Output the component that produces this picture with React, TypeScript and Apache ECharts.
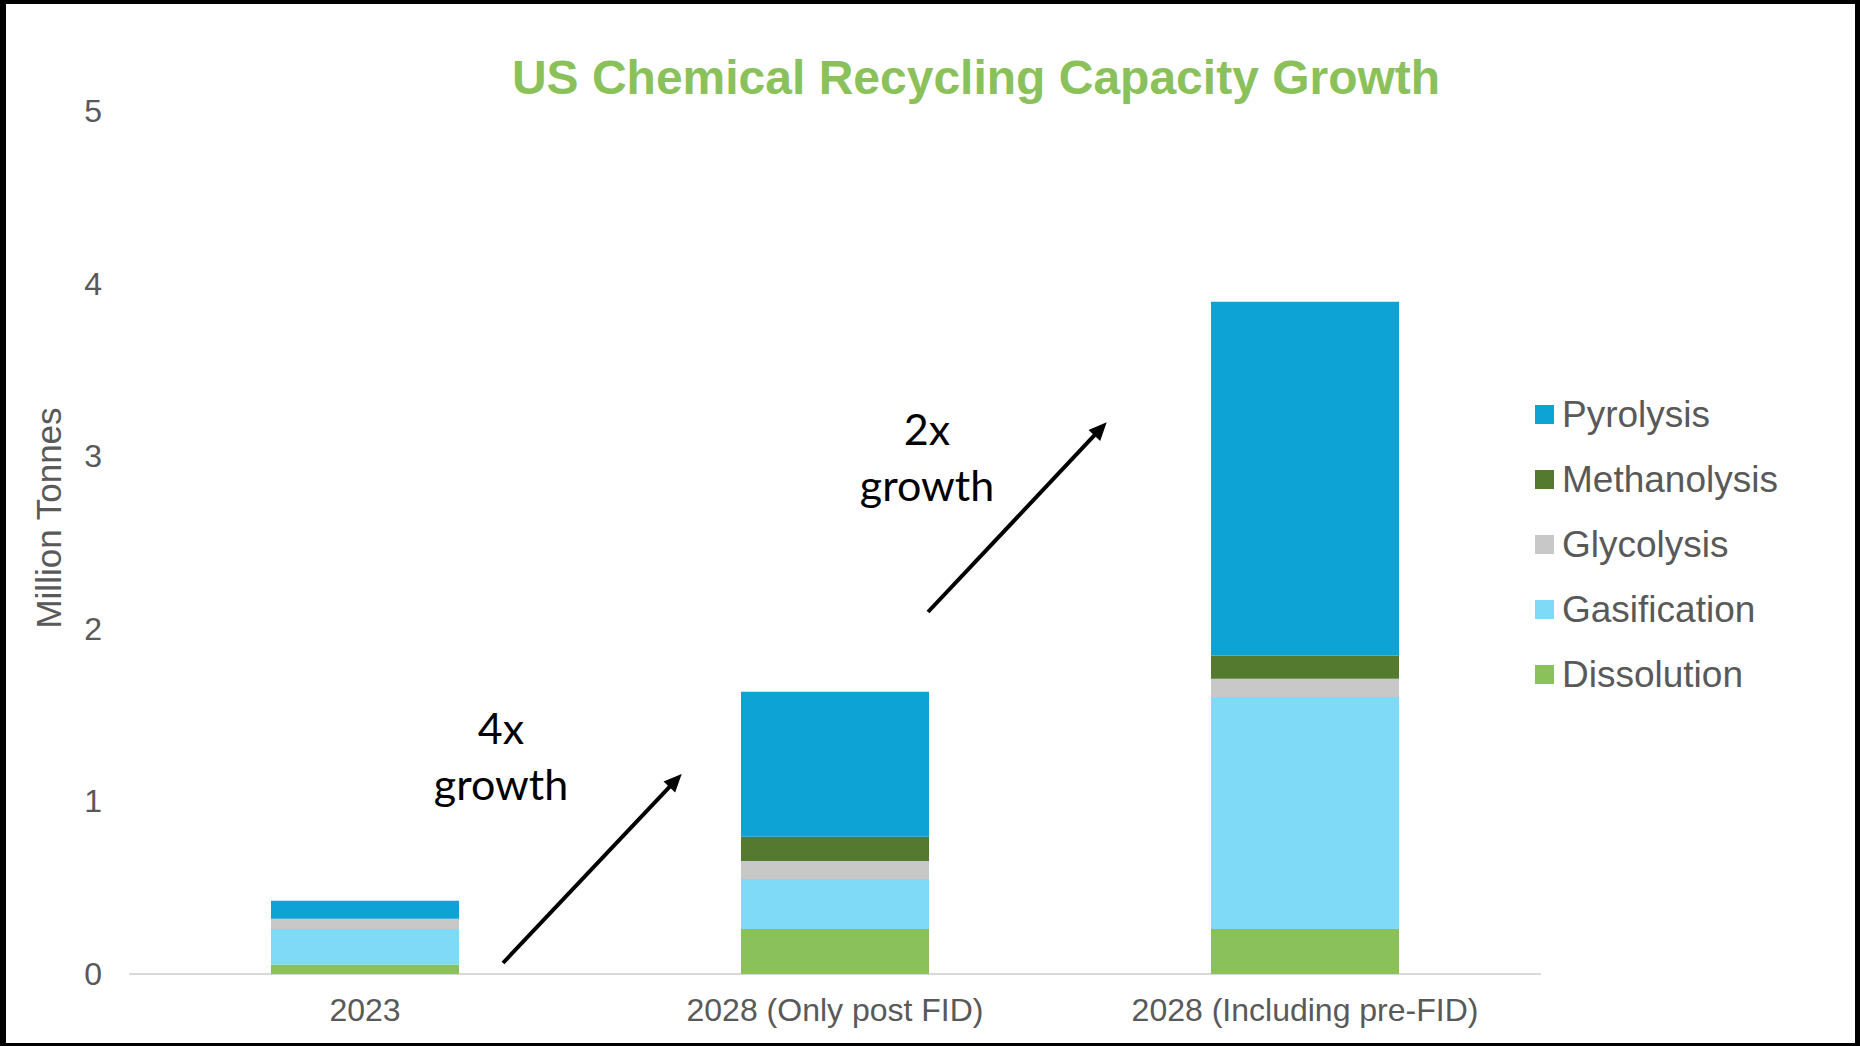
import React, { useEffect, useRef } from "react";
import * as echarts from "echarts";

const categories = ["2023", "2028 (Only post FID)", "2028 (Including pre-FID)"];
const seriesNames = ["Dissolution", "Gasification", "Glycolysis", "Methanolysis", "Pyrolysis"];
const dissolution = [0.055, 0.26, 0.26];
const gasification = [0.205, 0.29, 1.345];
const glycolysis = [0.06, 0.105, 0.105];
const methanolysis = [0, 0.14, 0.135];
const pyrolysis = [0.105, 0.84, 2.05];
const seriesValues = [dissolution, gasification, glycolysis, methanolysis, pyrolysis];
const seriesColors = ["#8BC15A", "#7FDAF7", "#C8C8C8", "#547A2F", "#0DA3D4"];
const legendOrder = ["Pyrolysis", "Methanolysis", "Glycolysis", "Gasification", "Dissolution"];
const yTicks = { min: 0, max: 5, interval: 1 };

const W = 1860;
const H = 1046;
const FONT = "'Liberation Sans', Arial, sans-serif";
const NOTE_FONT = "Lato, 'Noto Sans', sans-serif";

function arrow(x1: number, y1: number, x2: number, y2: number) {
  const dx = x2 - x1;
  const dy = y2 - y1;
  const len = Math.sqrt(dx * dx + dy * dy);
  const ux = dx / len;
  const uy = dy / len;
  const hl = 18;
  const hw = 8;
  const bx = x2 - ux * hl;
  const by = y2 - uy * hl;
  const px = -uy;
  const py = ux;
  return [
    {
      type: "line",
      shape: { x1, y1, x2: bx + ux * 2, y2: by + uy * 2 },
      style: { stroke: "#000", lineWidth: 4 },
      z: 50,
    },
    {
      type: "polygon",
      shape: {
        points: [
          [x2, y2],
          [bx + px * hw, by + py * hw],
          [bx - px * hw, by - py * hw],
        ],
      },
      style: { fill: "#000" },
      z: 50,
    },
  ];
}

export default function App() {
  const ref = useRef<HTMLDivElement>(null);
  useEffect(() => {
    if (!ref.current) return;
    const chart = echarts.init(ref.current, null, { renderer: "svg" });
    const option = {
      animation: false,
      backgroundColor: "#fff",
      grid: { left: 130, right: W - 1540, top: 111, bottom: 72, containLabel: false },
      legend: {
        orient: "vertical",
        left: 1535,
        top: 396,
        padding: 0,
        itemWidth: 19,
        itemHeight: 19,
        itemGap: 28,
        icon: "rect",
        data: legendOrder,
        textStyle: { color: "#595959", fontSize: 37, fontFamily: FONT, padding: [0, 0, 0, 3] },
      },
      xAxis: {
        type: "category",
        data: categories,
        axisTick: { show: false },
        axisLine: { lineStyle: { color: "#D9D9D9", width: 2 } },
        axisLabel: { color: "#595959", fontSize: 32, fontFamily: FONT, margin: 20 },
      },
      yAxis: {
        type: "value",
        min: yTicks.min,
        max: yTicks.max,
        interval: yTicks.interval,
        axisLine: { show: false },
        axisTick: { show: false },
        splitLine: { show: false },
        axisLabel: { color: "#595959", fontSize: 32, fontFamily: FONT, margin: 28 },
      },
      series: seriesNames.map((name, i) => ({
        name,
        type: "bar",
        stack: "total",
        barWidth: "40%",
        data: seriesValues[i],
        itemStyle: { color: seriesColors[i] },
      })),
      graphic: [
        {
          type: "text",
          x: 976,
          y: 77,
          style: {
            text: "US Chemical Recycling Capacity Growth",
            fill: "#8BC15A",
            font: `bold 48px ${FONT}`,
            textAlign: "center",
            textVerticalAlign: "middle",
          },
        },
        {
          type: "text",
          x: 48,
          y: 518,
          rotation: Math.PI / 2,
          style: {
            text: "Million Tonnes",
            fill: "#595959",
            font: `35px ${FONT}`,
            textAlign: "center",
            textVerticalAlign: "middle",
          },
        },
        {
          type: "text",
          x: 501,
          y: 755,
          style: {
            text: "4x\ngrowth",
            fill: "#000",
            font: `43px ${NOTE_FONT}`,
            lineHeight: 56,
            textAlign: "center",
            textVerticalAlign: "middle",
          },
        },
        {
          type: "text",
          x: 927,
          y: 456,
          style: {
            text: "2x\ngrowth",
            fill: "#000",
            font: `43px ${NOTE_FONT}`,
            lineHeight: 56,
            textAlign: "center",
            textVerticalAlign: "middle",
          },
        },
        ...arrow(503, 963, 681.7, 774),
        ...arrow(928, 612, 1106.7, 422.3),
        { type: "rect", shape: { x: 0, y: 0, width: W, height: 4 }, style: { fill: "#000" }, z: 100 },
        { type: "rect", shape: { x: 0, y: 0, width: 6, height: H }, style: { fill: "#000" }, z: 100 },
        { type: "rect", shape: { x: W - 5, y: 0, width: 5, height: H }, style: { fill: "#000" }, z: 100 },
        { type: "rect", shape: { x: 0, y: H - 3, width: W, height: 3 }, style: { fill: "#000" }, z: 100 },
      ],
    };
    chart.setOption(option as any);
    return () => chart.dispose();
  }, []);
  return (
    <div
      ref={ref}
      style={{ position: "fixed", left: 0, top: 0, width: W, height: H, background: "#fff" }}
    />
  );
}
